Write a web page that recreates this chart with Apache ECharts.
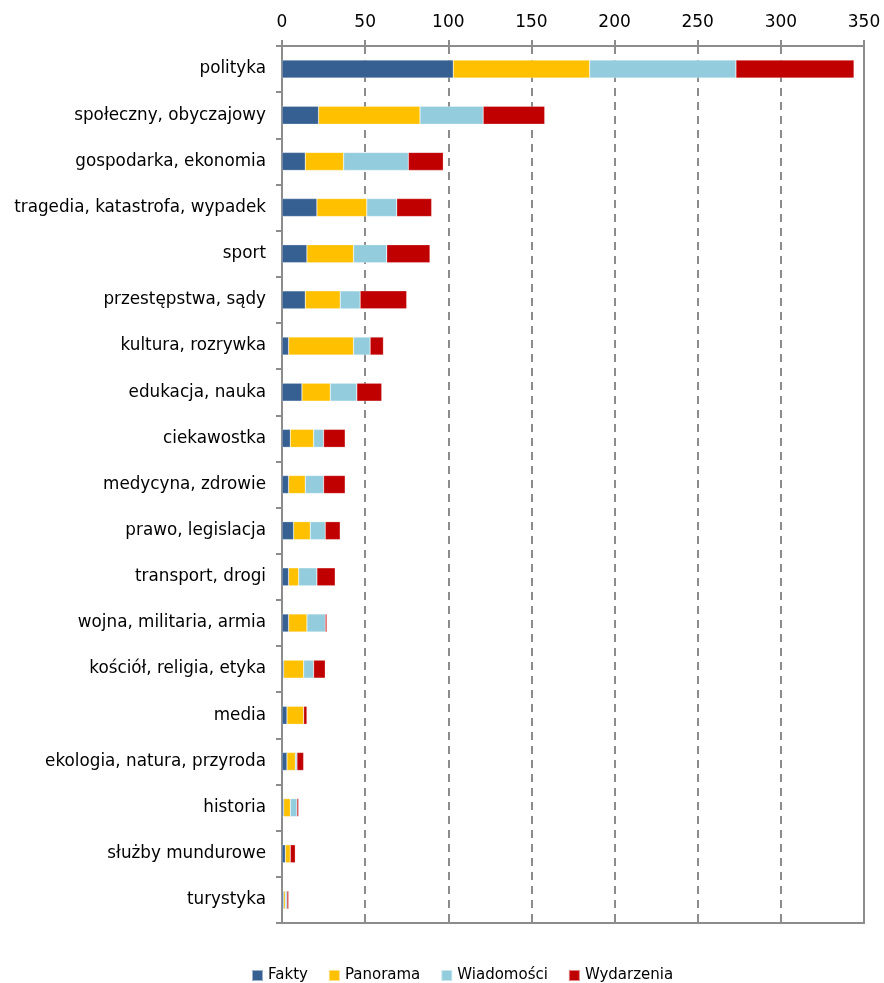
<!DOCTYPE html>
<html>
<head>
<meta charset="utf-8">
<script src="https://cdn.jsdelivr.net/npm/echarts@6/dist/echarts.min.js"></script>
<style>
  html, body { margin: 0; padding: 0; background: #fff; }
  #chart { width: 884px; height: 983px; }
</style>
</head>
<body>
<div id="chart"></div>
<script>
// tematy (od góry)
var categories = ['polityka', 'społeczny, obyczajowy', 'gospodarka, ekonomia', 'tragedia, katastrofa, wypadek',
  'sport', 'przestępstwa, sądy', 'kultura, rozrywka', 'edukacja, nauka', 'ciekawostka', 'medycyna, zdrowie',
  'prawo, legislacja', 'transport, drogi', 'wojna, militaria, armia', 'kościół, religia, etyka', 'media',
  'ekologia, natura, przyroda', 'historia', 'służby mundurowe', 'turystyka']

var fakty      = [103, 22, 14, 21, 15, 14, 4, 12, 5, 4, 7, 4, 4, 1, 3, 3, 1, 2, 1]
var panorama   = [82, 61, 23, 30, 28, 21, 39, 17, 14, 10, 10, 6, 11, 12, 10, 5, 4, 3, 1]
var wiadomosci = [88, 38, 39, 18, 20, 12, 10, 16, 6, 11, 9, 11, 11, 6, 0, 1, 4, 0, 1]
var wydarzenia = [71, 37, 21, 21, 26, 28, 8, 15, 13, 13, 9, 11, 1, 7, 2, 4, 1, 3, 1]

var xTicks = { min: 0, max: 350, interval: 50 }

var chartDom = document.getElementById('chart')
var myChart = echarts.init(chartDom)

function bar(name, data, color) {
  return {
    name: name,
    type: 'bar',
    stack: 'total',
    barWidth: 18,
    data: data,
    itemStyle: { color: color, borderColor: 'rgba(255,255,255,0.5)', borderWidth: 0.5 }
  }
}

var option = {
  animation: false,
  textStyle: { fontFamily: 'DejaVu Sans', color: '#000' },
  grid: {
    left: 282,
    right: 20,
    top: 46,
    bottom: 60,
    show: true,
    borderColor: '#8c8c8c',
    borderWidth: 2
  },
  legend: {
    top: 963,
    left: 246,
    icon: 'rect',
    itemWidth: 11,
    itemHeight: 11,
    itemGap: 20,
    textStyle: { fontFamily: 'DejaVu Sans', fontSize: 15, color: '#000' },
    data: ['Fakty', 'Panorama', 'Wiadomości', 'Wydarzenia']
  },
  xAxis: [
    {
      type: 'value',
      position: 'top',
      min: xTicks.min,
      max: xTicks.max,
      interval: xTicks.interval,
      axisLine: { show: true, lineStyle: { color: '#8c8c8c', width: 2 } },
      axisTick: { show: true, length: 6, lineStyle: { color: '#8c8c8c', width: 2 } },
      axisLabel: { fontSize: 17, color: '#000', margin: 15 },
      splitLine: { show: true, lineStyle: { color: '#8c8c8c', type: [8, 6], width: 2 } }
    },
    {
      type: 'value',
      position: 'top',
      min: xTicks.min,
      max: xTicks.max,
      interval: xTicks.interval,
      axisLine: { show: false },
      axisTick: { show: true, inside: true, length: 7, lineStyle: { color: '#8c8c8c', width: 2 } },
      axisLabel: { show: false },
      splitLine: { show: false }
    }
  ],
  yAxis: {
    type: 'category',
    inverse: true,
    data: categories,
    axisLine: { show: true, lineStyle: { color: '#8c8c8c', width: 2 } },
    axisTick: { show: true, length: 6, lineStyle: { color: '#8c8c8c', width: 2 } },
    axisLabel: { fontSize: 16.8, color: '#000', margin: 16 }
  },
  series: [
    bar('Fakty', fakty, '#376092'),
    bar('Panorama', panorama, '#ffc000'),
    bar('Wiadomości', wiadomosci, '#93cddd'),
    bar('Wydarzenia', wydarzenia, '#c00000')
  ]
}

option && myChart.setOption(option)
</script>
</body>
</html>
